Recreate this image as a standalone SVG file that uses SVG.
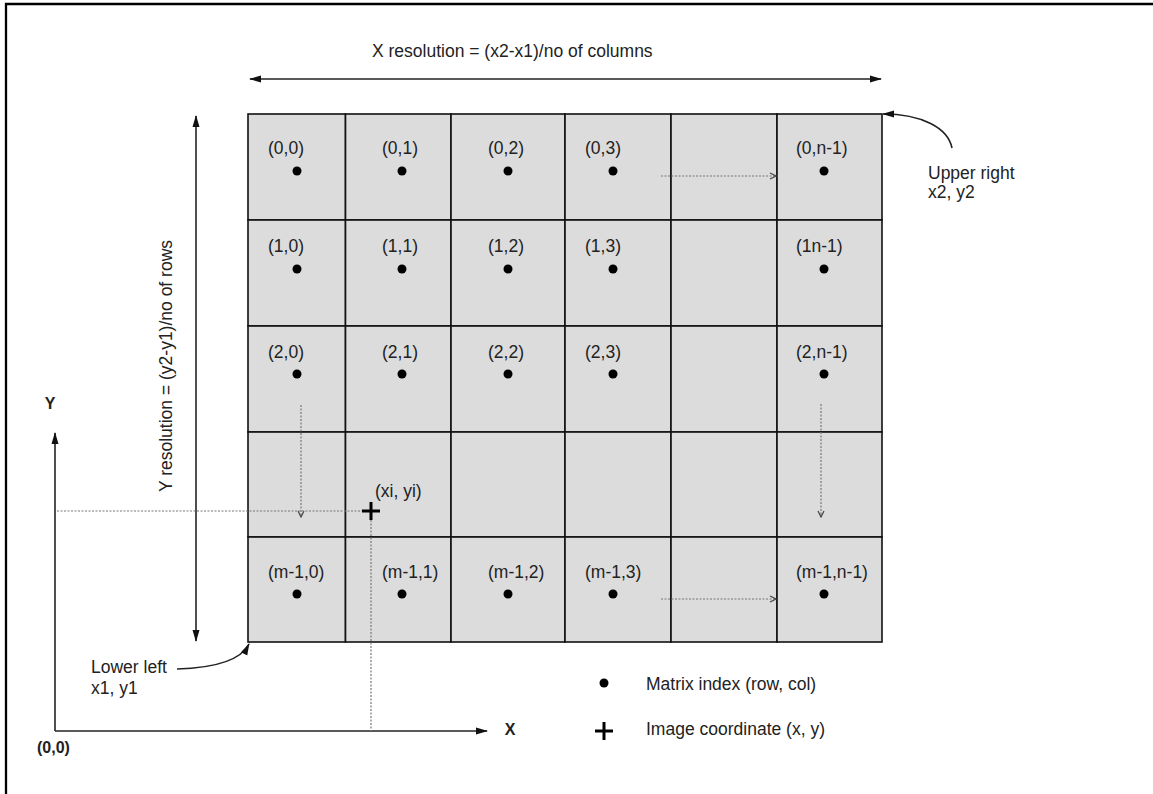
<svg xmlns="http://www.w3.org/2000/svg" width="1153" height="794" viewBox="0 0 1153 794">
<style>
text{font-family:"Liberation Sans",Arial,sans-serif;font-size:17.5px;fill:#222}
.b{font-weight:bold;font-size:16px}
.cell{fill:#dcdcdc;stroke:#111;stroke-width:1.6}
.dot{fill:#000}
.ax{stroke:#222;stroke-width:1.6;fill:none}
.dt{stroke:#777;stroke-width:1.2;stroke-dasharray:2 1.5;fill:none}
.plus{stroke:#000;stroke-width:3}
</style>
<defs>
<marker id="ah" markerUnits="userSpaceOnUse" markerWidth="12" markerHeight="8" refX="11" refY="4" orient="auto-start-reverse"><path d="M0,0.5 L12,4 L0,7.5 Z" fill="#111"/></marker>
<marker id="oh" markerUnits="userSpaceOnUse" markerWidth="8" markerHeight="8" refX="7" refY="4" orient="auto"><path d="M1,1 L7,4 L1,7" fill="none" stroke="#444" stroke-width="1.2"/></marker>
</defs>
<rect width="1153" height="794" fill="#fff"/>
<g id="frame" fill="none" stroke="#000" stroke-width="2.3"><path d="M6,794 V4 H1153"/></g>
<g id="grid">
<rect class="cell" x="248" y="114" width="97.5" height="106"/><rect class="cell" x="345.5" y="114" width="105.5" height="106"/><rect class="cell" x="451" y="114" width="114" height="106"/><rect class="cell" x="565" y="114" width="106" height="106"/><rect class="cell" x="671" y="114" width="106" height="106"/><rect class="cell" x="777" y="114" width="105" height="106"/>
<rect class="cell" x="248" y="220" width="97.5" height="106"/><rect class="cell" x="345.5" y="220" width="105.5" height="106"/><rect class="cell" x="451" y="220" width="114" height="106"/><rect class="cell" x="565" y="220" width="106" height="106"/><rect class="cell" x="671" y="220" width="106" height="106"/><rect class="cell" x="777" y="220" width="105" height="106"/>
<rect class="cell" x="248" y="326" width="97.5" height="106"/><rect class="cell" x="345.5" y="326" width="105.5" height="106"/><rect class="cell" x="451" y="326" width="114" height="106"/><rect class="cell" x="565" y="326" width="106" height="106"/><rect class="cell" x="671" y="326" width="106" height="106"/><rect class="cell" x="777" y="326" width="105" height="106"/>
<rect class="cell" x="248" y="432" width="97.5" height="105"/><rect class="cell" x="345.5" y="432" width="105.5" height="105"/><rect class="cell" x="451" y="432" width="114" height="105"/><rect class="cell" x="565" y="432" width="106" height="105"/><rect class="cell" x="671" y="432" width="106" height="105"/><rect class="cell" x="777" y="432" width="105" height="105"/>
<rect class="cell" x="248" y="537" width="97.5" height="105"/><rect class="cell" x="345.5" y="537" width="105.5" height="105"/><rect class="cell" x="451" y="537" width="114" height="105"/><rect class="cell" x="565" y="537" width="106" height="105"/><rect class="cell" x="671" y="537" width="106" height="105"/><rect class="cell" x="777" y="537" width="105" height="105"/>
</g>
<g id="row0">
<text x="268" y="154">(0,0)</text><circle class="dot" cx="297" cy="171" r="4.5"/>
<text x="382" y="154">(0,1)</text><circle class="dot" cx="402" cy="171" r="4.5"/>
<text x="488" y="154">(0,2)</text><circle class="dot" cx="508" cy="171" r="4.5"/>
<text x="585" y="154">(0,3)</text><circle class="dot" cx="613" cy="171" r="4.5"/>
<text x="796" y="154">(0,n-1)</text><circle class="dot" cx="824" cy="171" r="4.5"/>
</g>
<g id="row1">
<text x="268" y="252">(1,0)</text><circle class="dot" cx="297" cy="269" r="4.5"/>
<text x="382" y="252">(1,1)</text><circle class="dot" cx="402" cy="269" r="4.5"/>
<text x="488" y="252">(1,2)</text><circle class="dot" cx="508" cy="269" r="4.5"/>
<text x="585" y="252">(1,3)</text><circle class="dot" cx="613" cy="269" r="4.5"/>
<text x="796" y="252">(1n-1)</text><circle class="dot" cx="824" cy="269" r="4.5"/>
</g>
<g id="row2">
<text x="268" y="358">(2,0)</text><circle class="dot" cx="297" cy="374" r="4.5"/>
<text x="382" y="358">(2,1)</text><circle class="dot" cx="402" cy="374" r="4.5"/>
<text x="488" y="358">(2,2)</text><circle class="dot" cx="508" cy="374" r="4.5"/>
<text x="585" y="358">(2,3)</text><circle class="dot" cx="613" cy="374" r="4.5"/>
<text x="796" y="358">(2,n-1)</text><circle class="dot" cx="824" cy="374" r="4.5"/>
</g>
<g id="rowm">
<text x="268" y="578">(m-1,0)</text><circle class="dot" cx="297" cy="594" r="4.5"/>
<text x="382" y="578">(m-1,1)</text><circle class="dot" cx="402" cy="594" r="4.5"/>
<text x="488" y="578">(m-1,2)</text><circle class="dot" cx="508" cy="594" r="4.5"/>
<text x="585" y="578">(m-1,3)</text><circle class="dot" cx="613" cy="594" r="4.5"/>
<text x="796" y="578">(m-1,n-1)</text><circle class="dot" cx="824" cy="594" r="4.5"/>
</g>
<g id="connectors">
<path class="ax" d="M250,79 H881" marker-start="url(#ah)" marker-end="url(#ah)"/>
<path class="ax" d="M196,116 V641" marker-start="url(#ah)" marker-end="url(#ah)"/>
<path class="ax" d="M55,731 V433" marker-end="url(#ah)"/>
<path class="ax" d="M55,731 H487" marker-end="url(#ah)"/>
<path class="ax" d="M952,148 C948,128 922,114 883,114" marker-end="url(#ah)"/>
<path class="ax" d="M177,669 C212,668 240,662 249,644" marker-end="url(#ah)"/>
<path class="dt" d="M661,176 H776" marker-end="url(#oh)"/>
<path class="dt" d="M661,599 H776" marker-end="url(#oh)"/>
<path class="dt" d="M301,405 V517" marker-end="url(#oh)"/>
<path class="dt" d="M821,404 V517" marker-end="url(#oh)"/>
<path class="dt" d="M57,511 H362"/>
<path class="dt" d="M371,520 V731"/>
</g>
<g id="labels">
<text x="372" y="57">X resolution = (x2-x1)/no of columns</text>
<text transform="translate(172,366) rotate(-90)" text-anchor="middle">Y resolution = (y2-y1)/no of rows</text>
<text x="928" y="179">Upper right</text>
<text x="928" y="198">x2, y2</text>
<text x="91" y="673">Lower left</text>
<text x="91" y="694">x1, y1</text>
<text class="b" x="50" y="409" text-anchor="middle">Y</text>
<text class="b" x="510" y="735" text-anchor="middle">X</text>
<text class="b" x="37" y="753">(0,0)</text>
</g>
<g id="point">
<path class="plus" d="M362,511 H380 M371,502 V520"/>
<text x="375" y="497">(xi, yi)</text>
</g>
<g id="legend">
<circle class="dot" cx="604" cy="683" r="4.5"/>
<text x="646" y="690">Matrix index (row, col)</text>
<path class="plus" d="M595,731 H613 M604,722 V740"/>
<text x="646" y="735">Image coordinate (x, y)</text>
</g>
</svg>
